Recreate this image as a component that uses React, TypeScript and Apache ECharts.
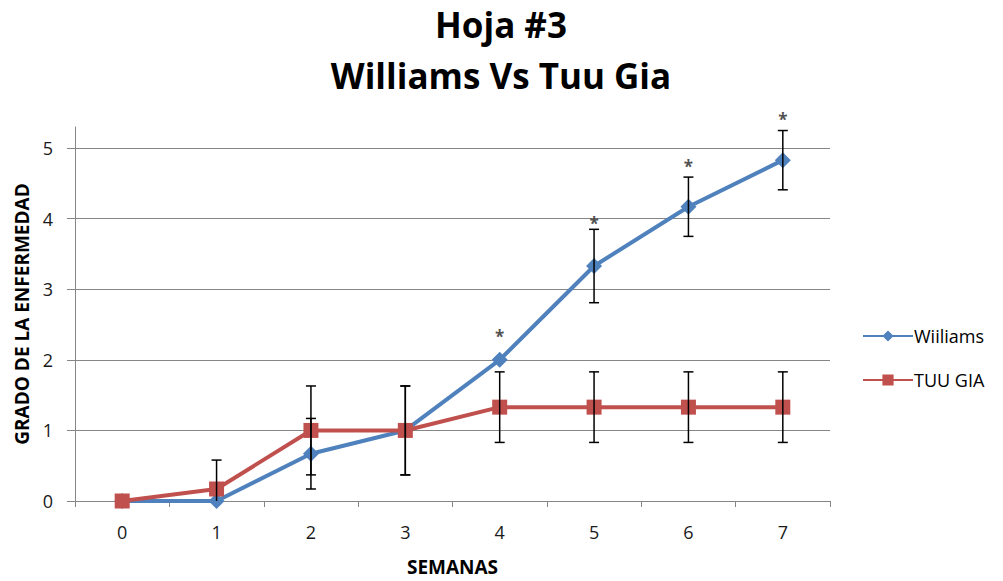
import React, { useEffect, useRef } from "react";
import * as echarts from "echarts";

const weeks = ["0", "1", "2", "3", "4", "5", "6", "7"];
const williams = [0, 0, 0.67, 1, 2, 3.33, 4.17, 4.83];
const tuuGia = [0, 0.17, 1, 1, 1.33, 1.33, 1.33, 1.33];
const williamsErr = [0, 0, 0.5, 0.63, 0, 0.52, 0.42, 0.42];
const tuuGiaErr = [0, 0.41, 0.63, 0.63, 0.5, 0.5, 0.5, 0.5];
const asterisks: (number | null)[] = [null, null, null, null, 2.37, 3.98, 4.78, 5.45];
const yTicks = [0, 1, 2, 3, 4, 5];

const BLUE = "#4F81BD";
const RED = "#C0504D";
const FONT = "'Open Sans', sans-serif";

function errData(vals: number[], errs: number[]) {
  return vals
    .map((v, i) => [i, Math.max(0, v - errs[i]), v + errs[i], errs[i]])
    .filter((d) => d[3] > 0);
}

function renderErr(params: any, api: any) {
  const x = api.value(0);
  const hi = api.coord([x, api.value(2)]);
  const lo = api.coord([x, api.value(1)]);
  const half = 5;
  const style = { stroke: "#000", lineWidth: 1.5 };
  const children: any[] = [
    { type: "line", shape: { x1: hi[0], y1: hi[1], x2: lo[0], y2: lo[1] }, style },
    { type: "line", shape: { x1: hi[0] - half, y1: hi[1], x2: hi[0] + half, y2: hi[1] }, style },
  ];
  if (api.value(1) > 0) {
    children.push({ type: "line", shape: { x1: lo[0] - half, y1: lo[1], x2: lo[0] + half, y2: lo[1] }, style });
  }
  return { type: "group", children };
}

export default function App() {
  const ref = useRef<HTMLDivElement>(null);
  useEffect(() => {
    document.body.style.margin = "0";
    const chart = echarts.init(ref.current!, null, { renderer: "svg" });
    chart.setOption({
      animation: false,
      backgroundColor: "#fff",
      title: {
        text: "Hoja #3\nWilliams Vs Tuu Gia",
        left: 496,
        top: -6,
        textAlign: "center",
        textStyle: { fontFamily: FONT, fontWeight: "bold", fontSize: 35, lineHeight: 51, color: "#000" },
      },
      legend: {
        orient: "vertical",
        left: 857,
        top: 322,
        itemWidth: 50,
        itemHeight: 14,
        itemGap: 26,
        textStyle: { fontFamily: FONT, fontSize: 18, color: "#000", padding: [0, 0, 0, -4] },
        data: ["Wiiliams", "TUU GIA"],
      },
      grid: { left: 75, right: 173, top: 127, bottom: 78 },
      xAxis: {
        type: "category",
        data: weeks,
        boundaryGap: true,
        name: "SEMANAS",
        nameLocation: "middle",
        nameGap: 56,
        nameTextStyle: { fontFamily: FONT, fontWeight: "bold", fontSize: 19, color: "#000" },
        axisLine: { lineStyle: { color: "#868686", width: 1 } },
        axisTick: { show: true, interval: 0, length: 6, lineStyle: { color: "#868686" } },
        axisLabel: { fontFamily: FONT, fontSize: 18, color: "#1a1a1a", margin: 22 },
        splitLine: { show: false },
      },
      yAxis: {
        type: "value",
        min: 0,
        max: 5.3,
        interval: 1,
        name: "GRADO DE LA ENFERMEDAD",
        nameLocation: "middle",
        nameGap: 43,
        nameRotate: 90,
        nameTextStyle: { fontFamily: FONT, fontWeight: "bold", fontSize: 19, color: "#000" },
        axisLine: { show: true, lineStyle: { color: "#868686", width: 1 } },
        axisTick: { show: true, length: 8, lineStyle: { color: "#868686" }, customValues: yTicks },
        axisLabel: { fontFamily: FONT, fontSize: 18, color: "#1a1a1a", margin: 22, customValues: yTicks },
        splitLine: { show: true, lineStyle: { color: "#868686", width: 1 } },
      },
      series: [
        {
          name: "Wiiliams",
          type: "line",
          data: williams,
          color: BLUE,
          lineStyle: { width: 4, color: BLUE },
          symbol: "diamond",
          symbolSize: 16,
          itemStyle: { color: BLUE },
          z: 2,
          clip: false,
        },
        {
          name: "TUU GIA",
          type: "line",
          data: tuuGia,
          color: RED,
          lineStyle: { width: 4, color: RED },
          symbol: "rect",
          symbolSize: 15,
          itemStyle: { color: RED },
          z: 3,
          clip: false,
        },
        {
          type: "custom",
          renderItem: renderErr,
          data: errData(williams, williamsErr),
          z: 5,
          silent: true,
          clip: false,
        },
        {
          type: "custom",
          renderItem: renderErr,
          data: errData(tuuGia, tuuGiaErr),
          z: 5,
          silent: true,
          clip: false,
        },
        {
          type: "scatter",
          data: asterisks.map((v, i) => (v == null ? null : [i, v])).filter((d) => d),
          symbolSize: 0,
          clip: false,
          silent: true,
          z: 6,
          label: {
            show: true,
            position: "inside",
            formatter: "*",
            fontFamily: FONT,
            fontWeight: "bold",
            fontSize: 17,
            color: "#222",
            offset: [0, 3],
          },
        },
      ],
    });
    return () => chart.dispose();
  }, []);
  return <div ref={ref} style={{ width: 1003, height: 581 }} />;
}
